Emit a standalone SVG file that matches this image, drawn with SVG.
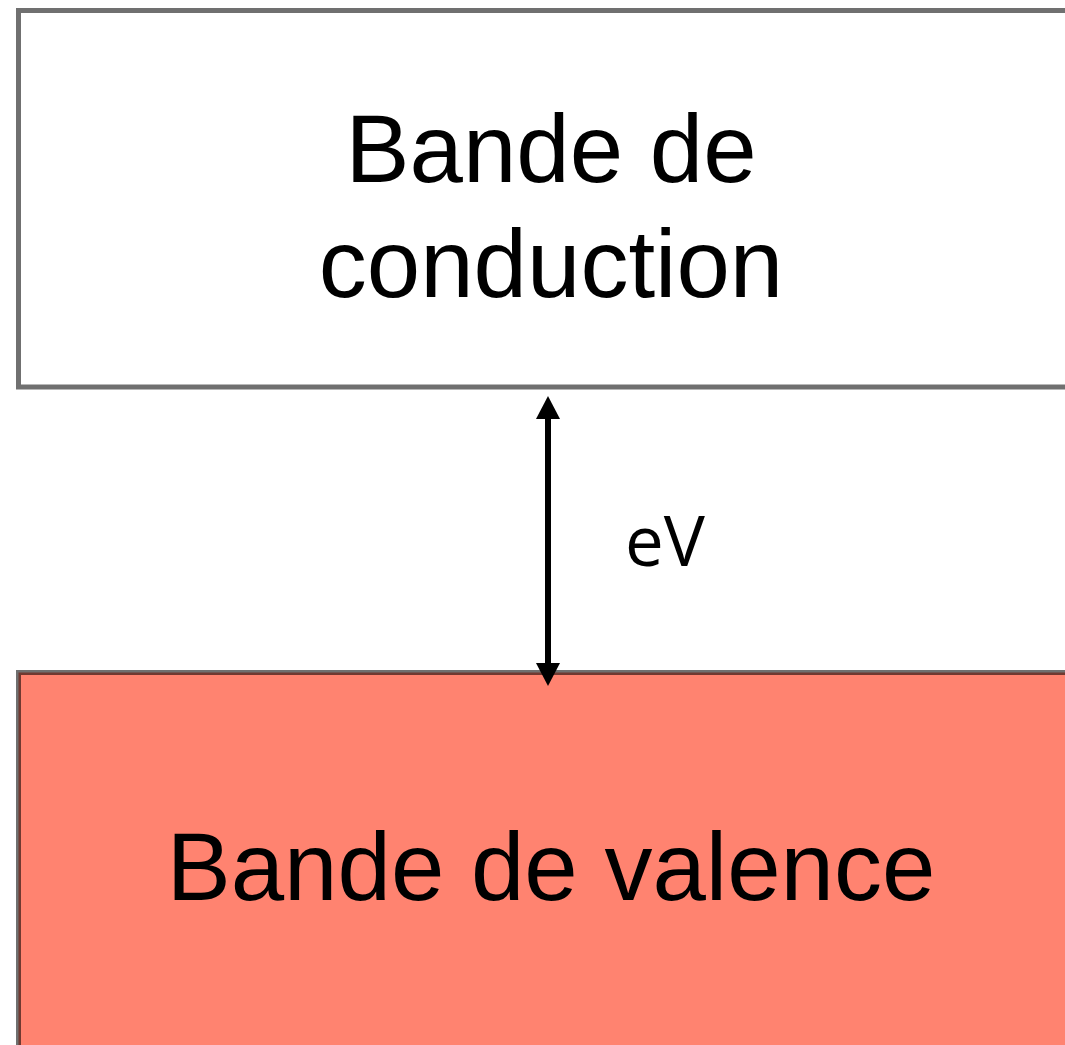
<svg xmlns="http://www.w3.org/2000/svg" width="1065" height="1045" viewBox="0 0 1065 1045">
  <style>
    .band { stroke: #000; stroke-opacity: 0.56; stroke-width: 5; }
    .label { font-family: "Liberation Sans", Arial, sans-serif; font-size: 96px; fill: #000; text-anchor: middle; }
    .gap { font-family: "Open Sans", "DejaVu Sans", sans-serif; font-size: 69px; fill: #000; }
    .arrowhead { fill: #000; }
  </style>
  <rect width="1065" height="1045" fill="#fff"/>

  <g id="conduction-band">
    <rect class="band" x="18.5" y="10.5" width="1060" height="376.5" fill="#fff"/>
    <text class="label" x="551" y="182">Bande de</text>
    <text class="label" x="551" y="297">conduction</text>
  </g>

  <g id="valence-band">
    <rect class="band" x="18.5" y="672.5" width="1060" height="400" fill="#FF8370"/>
    <text class="label" x="551" y="900">Bande de valence</text>
  </g>

  <g id="connectors">
    <line x1="548" y1="418" x2="548" y2="663" stroke="#000" stroke-width="6"/>
    <polygon class="arrowhead" points="548,396 536,419 560,419"/>
    <polygon class="arrowhead" points="548,686 536,663 560,663"/>
    <text class="gap" x="625" y="566">eV</text>
  </g>
</svg>
